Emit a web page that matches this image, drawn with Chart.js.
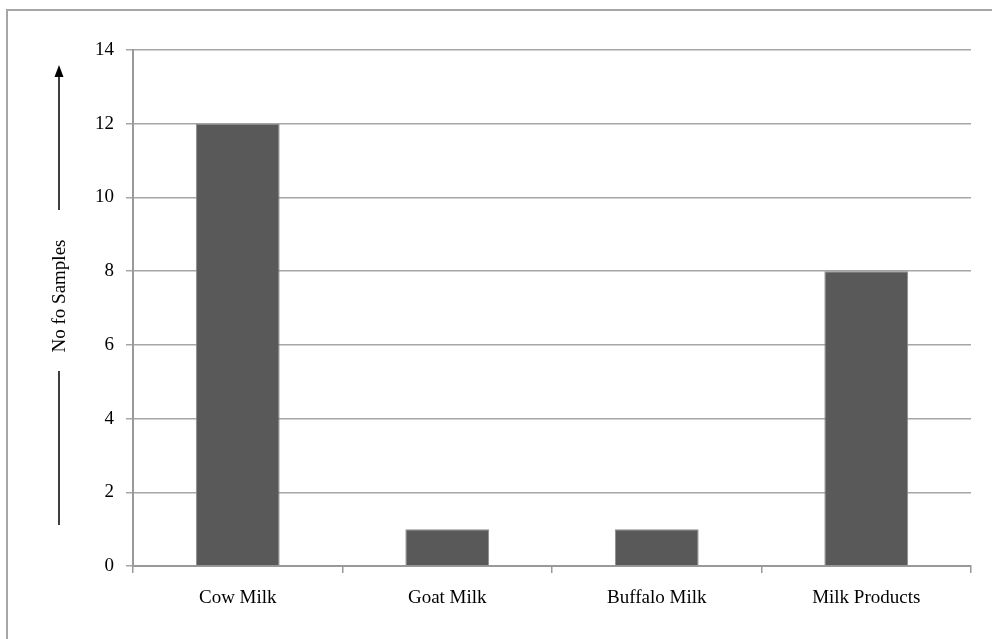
<!DOCTYPE html>
<html>
<head>
<meta charset="utf-8">
<script src="https://cdn.jsdelivr.net/npm/chart.js@4"></script>
<style>
  html, body { margin: 0; padding: 0; background: #fff; }
  #wrap { width: 992px; height: 639px; position: relative; }
</style>
</head>
<body>
<div id="wrap"><canvas id="milkChart"></canvas></div>
<script>
const categories = ['Cow Milk', 'Goat Milk', 'Buffalo Milk', 'Milk Products'];
const sampleCounts = [12, 1, 1, 8];
const yTicks = [0, 2, 4, 6, 8, 10, 12, 14];
const yTitle = 'No fo Samples';

const serif = '"Liberation Serif", "Times New Roman", serif';

// outer frame + the arrow style y title
const frameAndTitle = {
  id: 'frameAndTitle',
  beforeDraw(chart) {
    const c = chart.ctx;
    c.save();
    c.strokeStyle = '#a6a6a6';
    c.lineWidth = 2;
    c.strokeRect(7, 10, 1000, 700);
    c.restore();
  },
  afterDraw(chart) {
    const c = chart.ctx;
    const x = 59;
    c.save();
    c.font = '19px ' + serif;
    c.fillStyle = '#000';
    c.translate(x + 1, 296);
    c.rotate(-Math.PI / 2);
    c.textAlign = 'center';
    c.textBaseline = 'middle';
    c.fillText(yTitle, 0, 0);
    c.restore();

    c.save();
    c.strokeStyle = '#000';
    c.lineWidth = 1.5;
    c.beginPath();
    c.moveTo(x, 210);
    c.lineTo(x, 74);
    c.moveTo(x, 371);
    c.lineTo(x, 525);
    c.stroke();
    c.fillStyle = '#000';
    c.beginPath();
    c.moveTo(x, 65);
    c.lineTo(x - 4.5, 77);
    c.lineTo(x + 4.5, 77);
    c.closePath();
    c.fill();
    c.restore();
  }
};

const ctx = document.getElementById('milkChart').getContext('2d');
const milkChart = new Chart(ctx, {
  type: 'bar',
  data: {
    labels: categories,
    datasets: [
      {
        label: 'Samples',
        data: sampleCounts,
        backgroundColor: '#595959',
        borderColor: '#8c8c8c',
        borderWidth: 1,
        barPercentage: 0.4,
        categoryPercentage: 1.0
      }
    ]
  },
  options: {
    responsive: true,
    maintainAspectRatio: false,
    animation: false,
    layout: {
      padding: { top: 50, right: 21, bottom: 0, left: 0 }
    },
    scales: {
      y: {
        min: 0,
        max: 14,
        afterBuildTicks(axis) {
          axis.ticks = yTicks.map(v => ({ value: v }));
        },
        afterFit(axis) {
          axis.width = 133;
        },
        border: { color: '#999999', width: 2 },
        grid: {
          color: '#a6a6a6',
          lineWidth: 1.5,
          tickLength: 7
        },
        ticks: {
          color: '#000',
          padding: 12,
          font: { family: serif, size: 19 }
        }
      },
      x: {
        afterFit(axis) {
          axis.height = 73;
        },
        border: { color: '#999999', width: 2 },
        grid: {
          offset: true,
          drawOnChartArea: false,
          color: '#999999',
          lineWidth: 1.5,
          tickLength: 7
        },
        ticks: {
          color: '#000',
          padding: 14,
          font: { family: serif, size: 19 }
        }
      }
    },
    plugins: {
      legend: { display: false },
      tooltip: { enabled: false }
    }
  },
  plugins: [frameAndTitle]
});
</script>
</body>
</html>
